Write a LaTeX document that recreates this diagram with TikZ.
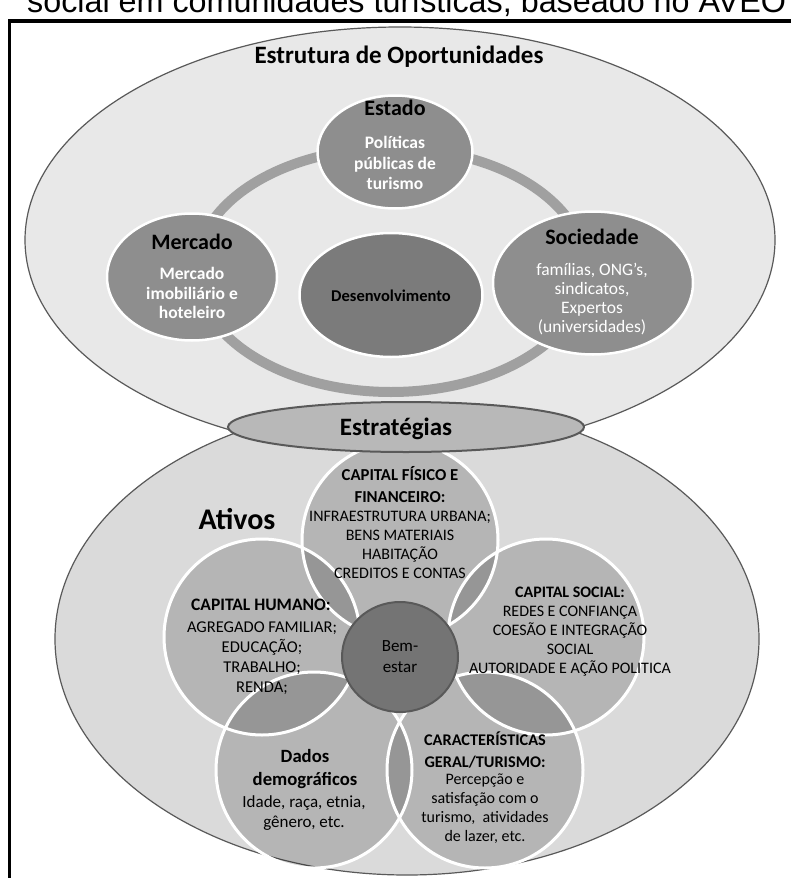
\documentclass[tikz,border=0pt]{standalone}
\usepackage{fontspec}
\setmainfont{Carlito}
\newfontfamily\capfont{Liberation Sans}
\usetikzlibrary{shapes.geometric}
\definecolor{topfill}{HTML}{E8E8E8}
\definecolor{lowfill}{HTML}{DADADA}
\definecolor{edgegray}{HTML}{595959}
\definecolor{ringgray}{HTML}{A0A0A0}
\definecolor{circgray}{HTML}{8E8E8E}
\definecolor{devgray}{HTML}{7B7B7B}
\definecolor{stratfill}{HTML}{B8B8B8}
\begin{document}
\begin{tikzpicture}[x=1pt,y=-1pt,
  shapebox/.style={ellipse, inner sep=0pt, outer sep=0pt},
  bigell/.style={shapebox, fill=#1, draw=edgegray, line width=1.2pt},
  topcirc/.style={shapebox, fill=circgray, draw=white, line width=2.5pt},
  asset/.style={circle, inner sep=0pt, outer sep=0pt, minimum size=196pt, fill=black, fill opacity=0.17},
  assetrim/.style={draw=white, line width=3pt},
  txt/.style={align=center, inner sep=0pt},
  bt/.style={txt, font=\fontsize{#1}{#1}\selectfont\bfseries},
]
\clip (0,0) rectangle (791,878);
\fill[white] (0,0) rectangle (791,878);
% caption (cut at the top)
\node[anchor=base west, inner sep=0pt, font=\capfont\fontsize{32.3}{36}\selectfont] (cap) at (27,12.5) {social em comunidades turísticas, baseado no AVEO};
% frame
\draw[line width=3.5pt] (9.5,21) rectangle (900,1000);
% upper ellipse
\node[bigell=topfill, minimum width=750pt, minimum height=426pt] (opp) at (400,240) {};
\node[shapebox, draw=ringgray, line width=10pt, minimum width=390pt, minimum height=244pt] (ring) at (391,270) {};
\node[topcirc, minimum width=155pt, minimum height=113pt] (estado) at (395,152) {};
\node[topcirc, minimum width=170pt, minimum height=127pt] (mercado) at (192,277) {};
\node[topcirc, minimum width=200pt, minimum height=143pt] (sociedade) at (593,283) {};
\node[shapebox, fill=devgray, draw=white, line width=2.5pt, minimum width=183pt, minimum height=124pt] (desenv) at (391,295) {};
% lower ellipse
\node[bigell=lowfill, minimum width=704pt, minimum height=472pt] (ativos) at (407,639) {};
\node[asset] (fis) at (400,540) {};
\node[asset] (hum) at (262,637) {};
\node[asset] (soc) at (546,637) {};
\node[asset] (dem) at (314,770) {};
\node[asset] (car) at (485,770) {};
\foreach \n in {fis,hum,soc,dem,car} \draw[assetrim] (\n) circle[radius=98];
\node[shapebox, fill=devgray!105, draw=edgegray, line width=2pt, minimum width=116pt, minimum height=110pt] (bem) at (400,657) {};
\node[shapebox, fill=stratfill, draw=edgegray, line width=2pt, minimum width=356pt, minimum height=50pt] (strat) at (406,427) {};
% texts - upper
\node[bt=25] (tOpp) at (399,57) {Estrutura de Oportunidades};
\node[bt=22] (tEst) at (395,108) {Estado};
\node[txt, font=\fontsize{17.5}{20.5}\selectfont\bfseries, text=white] (tEstB) at (395,163) {Políticas\\públicas de\\turismo};
\node[bt=22] (tMer) at (192,242) {Mercado};
\node[txt, font=\fontsize{17.5}{19.5}\selectfont\bfseries, text=white] (tMerB) at (192,293) {Mercado\\imobiliário e\\hoteleiro};
\node[bt=22] (tSoc) at (592,237) {Sociedade};
\node[txt, font=\fontsize{17.5}{19}\selectfont, text=white] (tSocB) at (592,299) {famílias, ONG’s,\\sindicatos,\\Expertos\\(universidades)};
\node[bt=16.5] (tDes) at (391,296) {Desenvolvimento};
\node[bt=25] (tStrat) at (396,429) {Estratégias};
% texts - lower
\node[bt=30] (tAt) at (237,519) {Ativos};
\node[txt, font=\fontsize{16.7}{22}\selectfont\bfseries] (tFisH) at (400,485) {CAPITAL FÍSICO E\\FINANCEIRO:};
\node[txt, font=\fontsize{16}{19.2}\selectfont] (tFisB) at (400,545) {INFRAESTRUTURA URBANA;\\BENS MATERIAIS\\HABITAÇÃO\\CREDITOS E CONTAS};
\node[txt, font=\fontsize{17.5}{20}\selectfont\bfseries] (tHumH) at (261,605) {CAPITAL HUMANO:};
\node[txt, font=\fontsize{16.5}{20}\selectfont] (tHumB) at (262,658) {AGREGADO FAMILIAR;\\EDUCAÇÃO;\\TRABALHO;\\RENDA;};
\node[txt, font=\fontsize{16}{19}\selectfont\bfseries] (tSocH) at (570,592) {CAPITAL SOCIAL:};
\node[txt, font=\fontsize{16}{19}\selectfont] (tSocB2) at (570,641) {REDES E CONFIANÇA\\COESÃO E INTEGRAÇÃO\\SOCIAL\\AUTORIDADE E AÇÃO POLITICA};
\node[txt, font=\fontsize{18.7}{23}\selectfont\bfseries] (tDemH) at (305,769) {Dados\\demográficos};
\node[txt, font=\fontsize{17}{20}\selectfont] (tDemB) at (304,813) {Idade, raça, etnia,\\gênero, etc.};
\node[txt, font=\fontsize{16.3}{22}\selectfont\bfseries] (tCarH) at (485,750) {CARACTERÍSTICAS\\GERAL/TURISMO:};
\node[txt, font=\fontsize{16}{19}\selectfont] (tCarB) at (485,809) {Percepção e\\satisfação com o\\turismo,~~atividades\\de lazer, etc.};
\node[txt, font=\fontsize{17}{21}\selectfont] (tBem) at (400,657) {Bem-\\estar};
\end{tikzpicture}
\end{document}
